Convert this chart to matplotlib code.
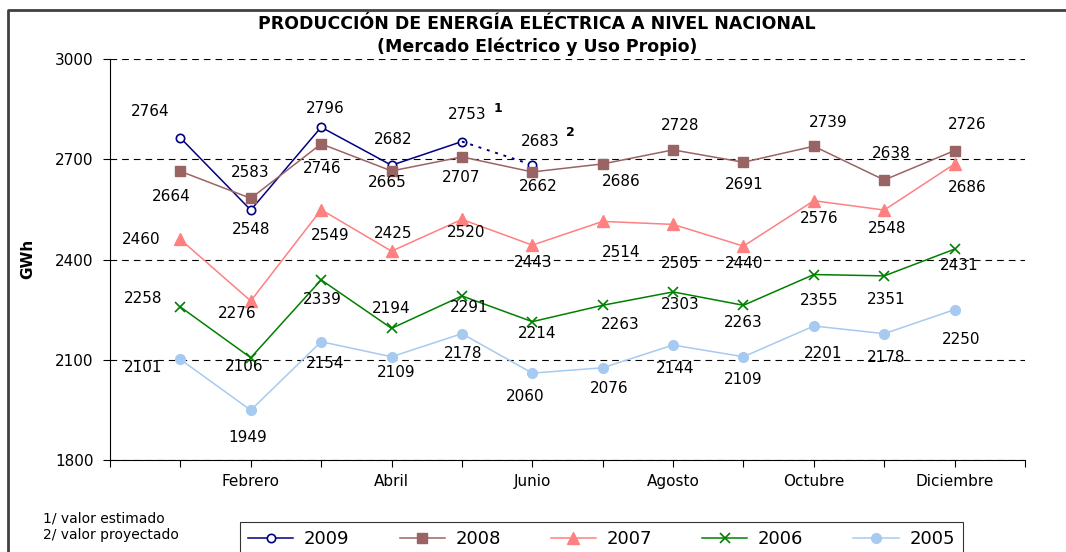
import matplotlib
matplotlib.use('Agg')
import matplotlib.pyplot as plt
from matplotlib.lines import Line2D
import numpy as np

# Producción de energía eléctrica (GWh) por mes
months = ['Enero', 'Febrero', 'Marzo', 'Abril', 'Mayo', 'Junio', 'Julio',
          'Agosto', 'Septiembre', 'Octubre', 'Noviembre', 'Diciembre']
y2009 = [2764, 2548, 2796, 2682, 2753, 2683]
y2008 = [2664, 2583, 2746, 2665, 2707, 2662, 2686, 2728, 2691, 2739, 2638, 2726]
y2007 = [2460, 2276, 2549, 2425, 2520, 2443, 2514, 2505, 2440, 2576, 2548, 2686]
y2006 = [2258, 2106, 2339, 2194, 2291, 2214, 2263, 2303, 2263, 2355, 2351, 2431]
y2005 = [2101, 1949, 2154, 2109, 2178, 2060, 2076, 2144, 2109, 2201, 2178, 2250]

# label offsets in pixels (dx, dy) from each point
off2009 = [(-30, 26), (0, -19), (4, 19), (2, 26), (5, 27), (8, 23)]
off2008 = [(-9, -25), (-1, 26), (1, -25), (-4, -12), (-1, -21), (6, -15),
           (19, -18), (7, 24), (1, -22), (14, 24), (7, 26), (13, 26)]
off2007 = [(-39, 0), (-14, -13), (9, -26), (2, 18), (4, -13), (1, -17),
           (18, -31), (7, -39), (1, -17), (5, -18), (3, -18), (13, -24)]
off2006 = [(-37, 8), (-7, -9), (1, -20), (0, 20), (7, -12), (5, -12),
           (18, -19), (7, -13), (0, -17), (5, -26), (2, -24), (5, -16)]
off2005 = [(-37, -8), (-3, -27), (4, -22), (5, -16), (1, -20), (-7, -23),
           (6, -21), (2, -23), (0, -23), (9, -28), (2, -24), (7, -30)]

W, H = 1066, 552
fig = plt.figure(figsize=(W / 100, H / 100), dpi=100)
ax = fig.add_axes([110 / W, (H - 460) / H, (1025 - 110) / W, (460 - 59) / H])

x = np.arange(1, 13)

styles = {
    '2009': dict(color='#000080', marker='o', ms=6, mfc='white', mec='#000080', mew=1.2),
    '2008': dict(color='#9B6464', marker='s', ms=7, mfc='#9B6464', mec='#9B6464'),
    '2007': dict(color='#FF8080', marker='^', ms=8, mfc='#FF8080', mec='#FF8080'),
    '2006': dict(color='#008000', marker='x', ms=7, mew=1.2),
    '2005': dict(color='#A6CAF0', marker='o', ms=7, mfc='#A6CAF0', mec='#A6CAF0'),
}
lw = 1.1

# 2009: solid to May, dotted to June (projected)
ax.plot(x[:5], y2009[:5], lw=lw, **styles['2009'], zorder=3)
ax.plot(x[4:6], y2009[4:6], lw=1.4, ls=(0, (1.5, 3)), color='#000080', zorder=3)
ax.plot(x[5:6], y2009[5:6], lw=0, **styles['2009'], zorder=3)
ax.plot(x, y2008, lw=lw, **styles['2008'], zorder=3)
ax.plot(x, y2007, lw=lw, **styles['2007'], zorder=3)
ax.plot(x, y2006, lw=lw, **styles['2006'], zorder=3)
ax.plot(x, y2005, lw=lw, **styles['2005'], zorder=3)

for vals, offs in [(y2009, off2009), (y2008, off2008), (y2007, off2007),
                   (y2006, off2006), (y2005, off2005)]:
    for xi, v, (dx, dy) in zip(x, vals, offs):
        ax.annotate(str(v), (xi, v), xytext=(dx, dy), textcoords='offset pixels',
                    ha='center', va='center', fontsize=11, zorder=4)

# notes 1 and 2
ax.annotate('1', (x[4], y2009[4]), xytext=(36, 33), textcoords='offset pixels',
            ha='center', va='center', fontsize=9, weight='bold')
ax.annotate('2', (x[5], y2009[5]), xytext=(38, 32), textcoords='offset pixels',
            ha='center', va='center', fontsize=9, weight='bold')

ax.set_ylim(1800, 3000)
ax.set_yticks([1800, 2100, 2400, 2700, 3000])
ax.set_xlim(0, 13)
ax.set_xticks(range(14))
xlabels = [''] * 14
for i in range(2, 13, 2):
    xlabels[i] = months[i - 1]
ax.set_xticklabels(xlabels)
ax.tick_params(axis='y', length=5, width=0.8, pad=7, labelsize=11)
ax.tick_params(axis='x', length=5, width=0.8, pad=5, labelsize=11)
ax.grid(axis='y', color='black', ls=(0, (6, 4.5)), lw=0.8)
ax.set_axisbelow(True)
for s in ['top', 'right']:
    ax.spines[s].set_visible(False)

fig.text(28 / W, 1 - 259 / H, 'GWh', rotation=90, ha='center', va='center',
         fontsize=11, weight='bold')
fig.text(537 / W, 1 - 24 / H, 'PRODUCCIÓN DE ENERGÍA ELÉCTRICA A NIVEL NACIONAL',
         ha='center', va='center', fontsize=12.5, weight='bold')
fig.text(537 / W, 1 - 47 / H, '(Mercado Eléctrico y Uso Propio)',
         ha='center', va='center', fontsize=12.5, weight='bold')

fig.text(43 / W, 1 - 518 / H, '1/ valor estimado', ha='left', va='center', fontsize=10)
fig.text(43 / W, 1 - 535 / H, '2/ valor proyectado', ha='left', va='center', fontsize=10)

# outer frame
fig.add_artist(Line2D([8 / W, 8 / W, 1], [0, 1 - 10 / H, 1 - 10 / H],
                      transform=fig.transFigure, color='#404040', lw=2))

handles = [Line2D([], [], lw=lw, **styles[k]) for k in ['2009', '2008', '2007', '2006', '2005']]
leg = fig.legend(handles, ['2009', '2008', '2007', '2006', '2005'], ncol=5,
                 loc='upper left', mode='expand', borderaxespad=0,
                 bbox_to_anchor=(240 / W, -0.1, (963 - 240) / W, 0.1 + (H - 522) / H),
                 fontsize=13, frameon=True, fancybox=False, edgecolor='black',
                 handlelength=2.5, handletextpad=0.6, borderpad=0.45)
leg.get_frame().set_linewidth(0.8)

fig.savefig('out.png', dpi=100)
